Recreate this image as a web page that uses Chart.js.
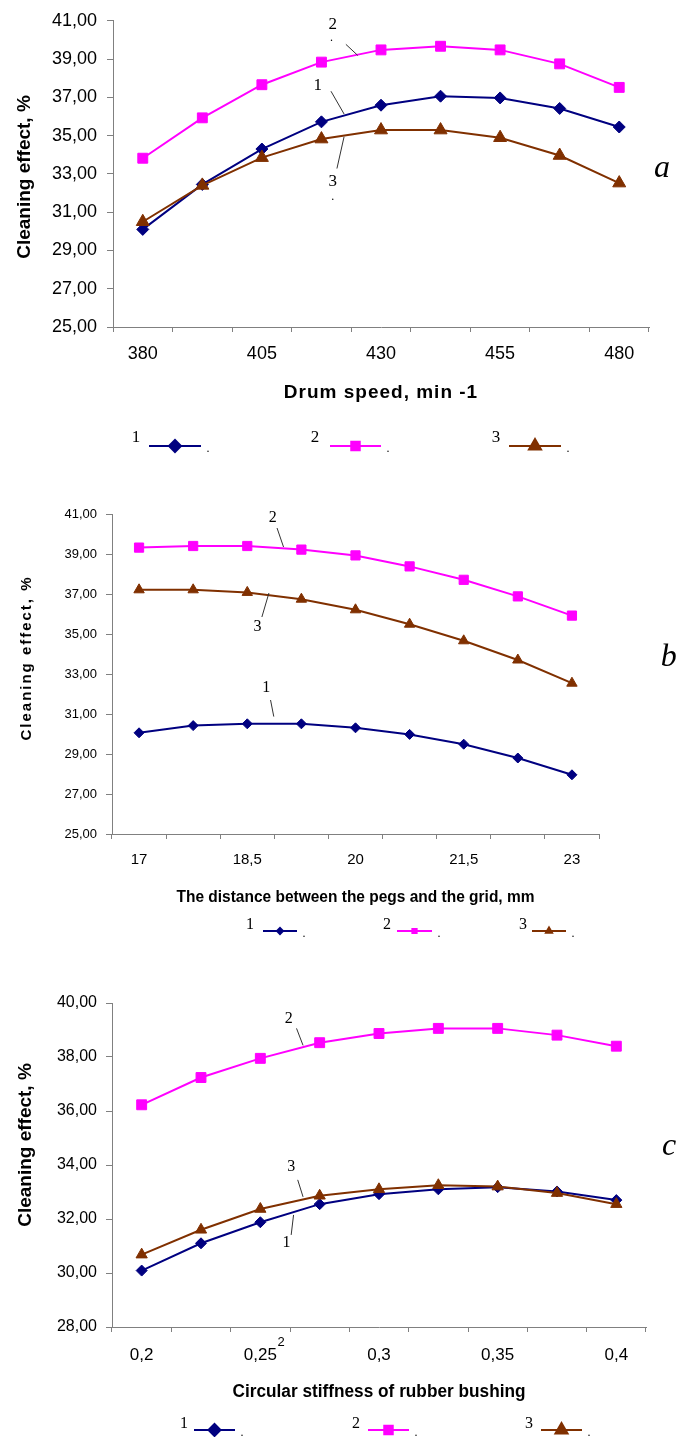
<!DOCTYPE html>
<html>
<head>
<meta charset="utf-8">
<script src="https://cdn.jsdelivr.net/npm/chart.js@4"></script>
<style>
  html, body { margin: 0; padding: 0; background: #fff; }
  canvas { display: block; }
</style>
</head>
<body>
<canvas id="chartA" width="680" height="460"></canvas>
<canvas id="chartB" width="680" height="480"></canvas>
<canvas id="chartC" width="680" height="497"></canvas>
<script>
// a) drum speed
const drumSpeed = [380, 392.5, 405, 417.5, 430, 442.5, 455, 467.5, 480];
const speed1 = [30.10, 32.45, 34.30, 35.72, 36.59, 37.06, 36.97, 36.42, 35.45];
const speed2 = [33.82, 35.93, 37.66, 38.84, 39.48, 39.67, 39.48, 38.75, 37.52];
const speed3 = [30.50, 32.40, 33.85, 34.82, 35.29, 35.29, 34.89, 33.96, 32.52];

// b) distance between pegs and grid
const pegDistance = [17, 17.75, 18.5, 19.25, 20, 20.75, 21.5, 22.25, 23];
const dist1 = [30.06, 30.42, 30.51, 30.51, 30.31, 29.98, 29.49, 28.80, 27.96];
const dist2 = [39.32, 39.40, 39.40, 39.22, 38.93, 38.38, 37.71, 36.88, 35.92];
const dist3 = [37.21, 37.21, 37.08, 36.74, 36.21, 35.49, 34.66, 33.70, 32.54];

// c) circular stiffness of rubber bushing
const stiffness = [0.2, 0.225, 0.25, 0.275, 0.3, 0.325, 0.35, 0.375, 0.4];
const stiff1 = [30.09, 31.10, 31.88, 32.55, 32.92, 33.10, 33.18, 33.02, 32.70];
const stiff2 = [36.23, 37.24, 37.95, 38.53, 38.87, 39.06, 39.06, 38.81, 38.40];
const stiff3 = [30.68, 31.60, 32.37, 32.86, 33.10, 33.25, 33.20, 32.96, 32.55];

const seriesNames = ['1', '2', '3'];
const colors = ['#000080', '#FF00FF', '#803000'];
const styles = ['rectRot', 'rect', 'triangle'];

Chart.defaults.font.family = '"Liberation Sans", Arial, sans-serif';
Chart.defaults.color = '#000';

const comma = v => String(v).replace('.', ',');
const SERIF = '"Liberation Serif", "Times New Roman", serif';

// titles, curve numbers, leader lines, legend
const figurePlugin = {
  id: 'figure',
  afterDraw(chart, args, o) {
    const ctx = chart.ctx;
    const sx = chart.scales.x, sy = chart.scales.y, area = chart.chartArea;
    const P = (i, v) => [sx.getPixelForValue(i), sy.getPixelForValue(v)];
    ctx.save();
    ctx.fillStyle = '#000';
    ctx.textAlign = 'center';
    ctx.textBaseline = 'middle';

    // y title
    ctx.save();
    ctx.font = o.yTitle.font;
    ctx.letterSpacing = o.yTitle.spacing || '0px';
    ctx.translate(o.yTitle.x, o.yTitle.y);
    ctx.rotate(-Math.PI / 2);
    ctx.fillText('Cleaning effect, %', 0, 0, o.yTitle.maxWidth);
    ctx.restore();

    // x title
    ctx.save();
    ctx.font = o.xTitle.font;
    ctx.letterSpacing = o.xTitle.spacing || '0px';
    ctx.fillText(o.xTitle.text, (area.left + area.right) / 2, o.xTitle.y, o.xTitle.maxWidth);
    ctx.restore();

    // leader lines
    ctx.strokeStyle = '#333';
    ctx.lineWidth = 1;
    o.leaders.forEach(l => {
      const a = P(l[0], l[1]), b = P(l[2], l[3]);
      ctx.beginPath();
      ctx.moveTo(a[0], a[1]);
      ctx.lineTo(b[0], b[1]);
      ctx.stroke();
    });

    // labels
    o.labels.forEach(t => {
      const p = P(t.i, t.v);
      ctx.font = t.font;
      ctx.fillText(t.text, p[0], p[1]);
    });

    // legend
    const lg = o.legend;
    chart.data.datasets.forEach((ds, k) => {
      const it = lg.items[k];
      ctx.font = lg.font;
      ctx.fillText(seriesNames[k], it[0], lg.y + lg.numDy);
      ctx.strokeStyle = ds.borderColor;
      ctx.lineWidth = 2;
      ctx.beginPath();
      ctx.moveTo(it[1], lg.y);
      ctx.lineTo(it[2], lg.y);
      ctx.stroke();
      ctx.fillStyle = ds.borderColor;
      Chart.helpers.drawPoint(ctx, { pointStyle: ds.pointStyle, radius: lg.radius[k], rotation: 0, borderWidth: 1 }, (it[1] + it[2]) / 2, lg.y);
      ctx.fill();
      ctx.fillStyle = '#000';
      ctx.font = '12px ' + SERIF;
      ctx.fillText('.', it[2] + 7, lg.y + 3);
    });
    ctx.restore();
  }
};

function makeChart(id, labels, values, cfg) {
  return new Chart(document.getElementById(id), {
    type: 'line',
    data: {
      labels: labels.map(comma),
      datasets: values.map((d, k) => ({
        data: d,
        borderColor: colors[k],
        backgroundColor: colors[k],
        borderWidth: cfg.lineWidth,
        pointStyle: styles[k],
        pointRadius: cfg.radius[k],
        pointBorderWidth: 1,
        tension: 0,
        order: 2 - k
      }))
    },
    options: {
      responsive: false,
      animation: false,
      devicePixelRatio: 1,
      layout: { padding: { top: cfg.top, right: cfg.right, left: 0, bottom: 0 } },
      plugins: { legend: { display: false }, tooltip: { enabled: false }, figure: cfg.fig },
      scales: {
        x: {
          type: 'category',
          offset: true,
          afterFit: s => { s.height = cfg.xHeight; },
          grid: { offset: true, drawOnChartArea: false, tickLength: 5, color: '#808080' },
          border: { color: '#808080' },
          ticks: {
            autoSkip: false, maxRotation: 0, padding: cfg.xPad,
            font: { size: cfg.xFont },
            callback: (v, i) => i % 2 === 0 ? comma(labels[i]) : ''
          }
        },
        y: {
          min: cfg.min, max: cfg.max,
          afterFit: s => { s.width = cfg.yWidth; },
          grid: { drawOnChartArea: false, tickLength: 6, color: '#808080' },
          border: { color: '#808080' },
          ticks: { stepSize: 2, padding: cfg.yPad, font: { size: cfg.yFont }, callback: v => v.toFixed(2).replace('.', ',') }
        }
      }
    },
    plugins: [figurePlugin]
  });
}

makeChart('chartA', drumSpeed, [speed1, speed2, speed3], {
  top: 18, right: 31, yWidth: 113, xHeight: 133, min: 25, max: 41,
  xFont: 18, yFont: 18, xPad: 11, yPad: 10, lineWidth: 2, radius: [6, 7, 7.5],
  fig: {
    yTitle: { x: 25, y: 177, font: 'bold 19px "Liberation Sans", Arial', maxWidth: 170 },
    xTitle: { text: 'Drum speed, min -1', y: 393, font: 'bold 19px "Liberation Sans", Arial', spacing: '1px' },
    leaders: [[3.41, 39.77, 3.61, 39.19], [3.16, 37.32, 3.38, 36.13], [3.26, 33.28, 3.38, 34.94]],
    labels: [
      { text: '2', i: 3.19, v: 40.8, font: '17px ' + SERIF },
      { text: '.', i: 3.17, v: 40.1, font: '12px ' + SERIF },
      { text: '1', i: 2.94, v: 37.63, font: '17px ' + SERIF },
      { text: '3', i: 3.19, v: 32.61, font: '17px ' + SERIF },
      { text: '.', i: 3.19, v: 31.8, font: '12px ' + SERIF },
      { text: 'a', i: 8.72, v: 33.28, font: 'italic 32px ' + SERIF }
    ],
    legend: { y: 446, numDy: -8, font: '17px ' + SERIF, radius: [6, 6, 7],
      items: [[136, 149, 201], [315, 330, 381], [496, 509, 561]] }
  }
});

makeChart('chartB', pegDistance, [dist1, dist2, dist3], {
  top: 54, right: 81, yWidth: 112, xHeight: 106, min: 25, max: 41,
  xFont: 15, yFont: 13, xPad: 12, yPad: 9, lineWidth: 2, radius: [5, 6.5, 6],
  fig: {
    yTitle: { x: 27, y: 198, font: 'bold 15px "Liberation Sans", Arial', spacing: '2px', maxWidth: 165 },
    xTitle: { text: 'The distance between the pegs and the grid, mm', y: 437, font: 'bold 17px "Liberation Sans", Arial', maxWidth: 358 },
    leaders: [[2.55, 40.3, 2.67, 39.35], [2.27, 35.85, 2.40, 37.05], [2.43, 31.7, 2.49, 30.87]],
    labels: [
      { text: '2', i: 2.47, v: 40.8, font: '16px ' + SERIF },
      { text: '3', i: 2.19, v: 35.35, font: '16px ' + SERIF },
      { text: '1', i: 2.35, v: 32.3, font: '16px ' + SERIF },
      { text: 'b', i: 9.79, v: 33.8, font: 'italic 32px ' + SERIF }
    ],
    legend: { y: 471, numDy: -6, font: '16px ' + SERIF, radius: [3, 3, 3.5],
      items: [[250, 263, 297], [387, 397, 432], [523, 532, 566]] }
  }
});

makeChart('chartC', stiffness, [stiff1, stiff2, stiff3], {
  top: 63, right: 34, yWidth: 112, xHeight: 110, min: 28, max: 40,
  xFont: 17, yFont: 16, xPad: 13, yPad: 9, lineWidth: 2, radius: [5.5, 7, 6.5],
  fig: {
    yTitle: { x: 26, y: 205, font: 'bold 19px "Liberation Sans", Arial', maxWidth: 170 },
    xTitle: { text: 'Circular stiffness of rubber bushing', y: 452, font: 'bold 18px "Liberation Sans", Arial', maxWidth: 293 },
    leaders: [[2.61, 39.06, 2.72, 38.43], [2.63, 33.45, 2.72, 32.82], [2.52, 31.41, 2.56, 32.15]],
    labels: [
      { text: '2', i: 2.48, v: 39.43, font: '16px ' + SERIF },
      { text: '3', i: 2.52, v: 33.93, font: '16px ' + SERIF },
      { text: '1', i: 2.44, v: 31.12, font: '16px ' + SERIF },
      { text: '2', i: 2.35, v: 27.42, font: '13px "Liberation Sans", Arial' },
      { text: 'c', i: 8.89, v: 34.67, font: 'italic 32px ' + SERIF }
    ],
    legend: { y: 490, numDy: -6, font: '16px ' + SERIF, radius: [6, 6, 7],
      items: [[184, 194, 235], [356, 368, 409], [529, 541, 582]] }
  }
});
</script>
</body>
</html>
